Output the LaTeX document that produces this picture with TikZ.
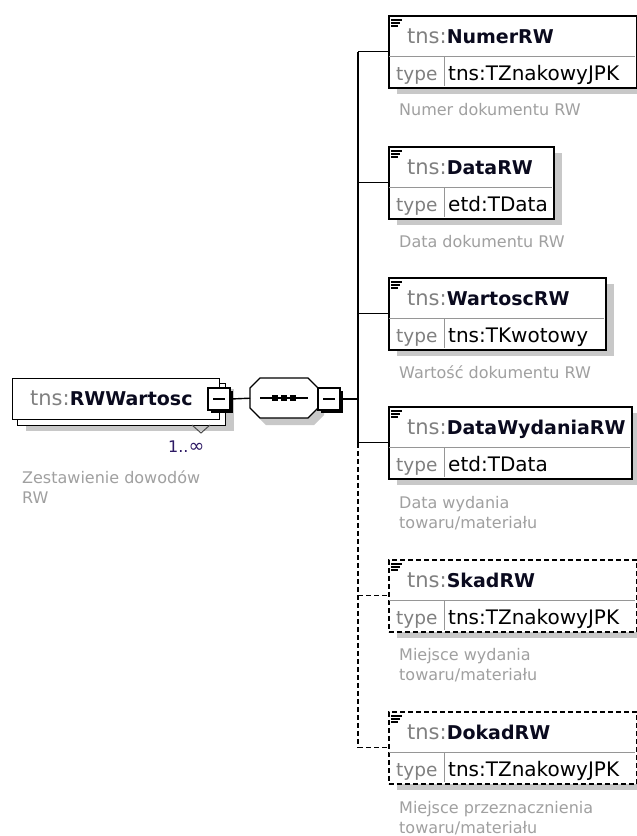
\documentclass[tikz,border=0pt]{standalone}
\usepackage{fontspec}
\setmainfont{DejaVu Sans}
\usetikzlibrary{shadows}
\definecolor{shc}{RGB}{200,200,200}
\definecolor{tnsc}{RGB}{128,128,128}
\definecolor{descc}{RGB}{160,160,160}
\definecolor{sepc}{RGB}{150,150,150}
\definecolor{occc}{RGB}{45,25,100}
\definecolor{namec}{RGB}{10,10,30}
\newcommand\tnsp{{\fontsize{21pt}{21pt}\selectfont\color{tnsc}tns:}}
\newcommand\nameb[1]{{\fontsize{19pt}{19pt}\selectfont\bfseries\color{namec}#1}}
\tikzset{
  ebox/.style={draw=black, line width=1.5pt, fill=white, minimum height=72pt, inner sep=0pt,
    drop shadow={shadow xshift=8pt, shadow yshift=-6pt, fill=shc, opacity=1}},
  optbox/.style={dash pattern=on 5pt off 3pt},
  rowsep/.style={draw=sepc, line width=1pt},
  icon/.style={draw=black, line width=1.1pt},
  txt/.style={inner sep=0pt, anchor=base west},
  nametext/.style={txt},
  typelbl/.style={txt, font=\fontsize{18.5pt}{18.5pt}\selectfont, text=tnsc},
  typeval/.style={txt, font=\fontsize{20pt}{20pt}\selectfont, text=black},
  desc/.style={txt, font=\fontsize{16pt}{16pt}\selectfont, text=descc},
  minusbox/.style={draw=black, line width=1.2pt, fill=white, minimum width=22pt, minimum height=22pt, inner sep=0pt,
    drop shadow={shadow xshift=2.5pt, shadow yshift=-2.5pt, fill=black, opacity=1}},
  conn/.style={draw=black, line width=1.4pt},
  optconn/.style={conn, dash pattern=on 5pt off 3pt},
}
\newcommand{\xel}[6]{%
  \node[ebox,#6,minimum width=#3pt,anchor=north west] (#1) at (388,#2) {};
  \draw[rowsep] (389,#2+41) -- (388+#3-1,#2+41);
  \draw[rowsep] (444,#2+41) -- (444,#2+71);
  \draw[icon] (391,#2+5) -- (402,#2+5) (391,#2+8) -- (400,#2+8) (391,#2+11) -- (398,#2+11);
  \node[nametext] (#1-name) at (407,#2+28) {\tnsp\nameb{#4}};
  \node[typelbl] (#1-tl) at (396,#2+65) {type};
  \node[typeval] (#1-tv) at (448,#2+65) {#5};
}
\newcommand{\octpath}[2]{(#1+10,#2) -- (#1+58,#2) -- (#1+68,#2+10) -- (#1+68,#2+30) -- (#1+58,#2+40) -- (#1+10,#2+40) -- (#1,#2+30) -- (#1,#2+10) -- cycle}
\begin{document}
\begin{tikzpicture}[x=1pt,y=-1pt]
\useasboundingbox[fill=white] (0,0) rectangle (637,836);

% main element
\node[draw=black, line width=1.3pt, fill=white, minimum width=208pt, minimum height=42pt, inner sep=0pt, anchor=north west,
  drop shadow={shadow xshift=8pt, shadow yshift=-5pt, fill=shc, opacity=1}] (mainback) at (17,383) {};
\node[draw=black, line width=1.3pt, fill=white, minimum width=207pt, minimum height=41pt, inner sep=0pt, anchor=north west] (main) at (12,378) {};
\node[nametext] (main-name) at (30,405) {\tnsp\nameb{RWWartosc}};
\node[minusbox] (mainminus) at (219,399) {};
\draw[line width=1.2pt] (213,399) -- (225,399);
\draw[draw=black!70, line width=1pt] (192,425) -- (201,433) -- (210,425);
\node[txt, font=\fontsize{16pt}{16pt}\selectfont, text=occc] (occ) at (168,452) {1..{\fontsize{19pt}{19pt}\selectfont ∞}};
\node[desc] (main-d1) at (22,483) {Zestawienie dowodów};
\node[desc] (main-d2) at (22,503) {RW};

% sequence compositor
\fill[shc] \octpath{256}{385};
\filldraw[fill=white, draw=black, line width=1.3pt] \octpath{250}{378};
\node[minimum width=68pt, minimum height=40pt, inner sep=0pt, anchor=north west] (seq) at (250,378) {};
\draw[line width=1.3pt] (260,398) -- (308,398);
\foreach \dx in {275,284,293} \fill (\dx-3,395) rectangle (\dx+3,401);
\node[minusbox] (seqminus) at (329,399) {};
\draw[line width=1.2pt] (323,399) -- (335,399);

\draw[conn] (mainminus.east) -- (seq.west);
\coordinate (busmid) at (358,399);
\draw[conn] (seqminus.east) -- (busmid);

% child elements
\xel{numer}{15}{248}{NumerRW}{tns:TZnakowyJPK}{}
\node[desc] (numer-d1) at (399,115) {Numer dokumentu RW};

\xel{datarw}{146}{165}{DataRW}{etd:TData}{}
\node[desc] (datarw-d1) at (399,247) {Data dokumentu RW};

\xel{wart}{277}{217}{WartoscRW}{tns:TKwotowy}{}
\node[desc] (wart-d1) at (399,378) {Wartość dokumentu RW};

\xel{datawyd}{406}{243}{DataWydaniaRW}{etd:TData}{}
\node[desc] (datawyd-d1) at (399,508) {Data wydania};
\node[desc] (datawyd-d2) at (399,528) {towaru/materiału};

\xel{skad}{559}{248}{SkadRW}{tns:TZnakowyJPK}{optbox}
\node[desc] (skad-d1) at (399,660) {Miejsce wydania};
\node[desc] (skad-d2) at (399,680) {towaru/materiału};

\xel{dokad}{711}{248}{DokadRW}{tns:TZnakowyJPK}{optbox}
\node[desc] (dokad-d1) at (399,813) {Miejsce przeznacznienia};
\node[desc] (dokad-d2) at (399,833) {towaru/materiału};

% bus and connectors
\draw[conn] (numer.west -| busmid) -- (datawyd.west -| busmid);
\draw[optconn] (datawyd.west -| busmid) -- (dokad.west -| busmid);
\foreach \n in {numer,datarw,wart,datawyd} \draw[conn] (\n.west -| busmid) -- (\n.west);
\foreach \n in {skad,dokad} \draw[optconn] (\n.west -| busmid) -- (\n.west);
\end{tikzpicture}
\end{document}
